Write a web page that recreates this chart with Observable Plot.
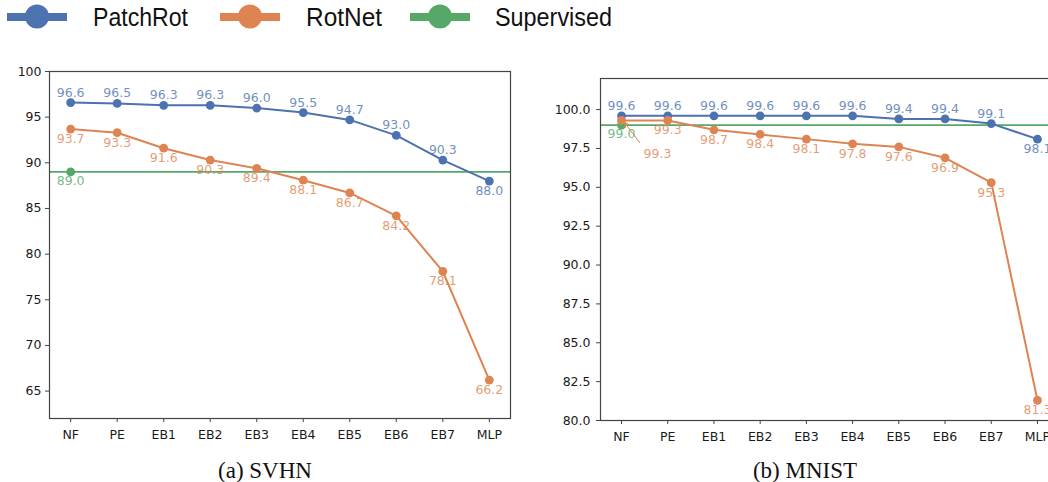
<!DOCTYPE html>
<html><head><meta charset="utf-8">
<script src="https://cdn.jsdelivr.net/npm/d3@7"></script>
<script src="https://cdn.jsdelivr.net/npm/@observablehq/plot@0.6"></script>
<style>
html,body{margin:0;padding:0;background:#fff;width:1048px;height:482px;overflow:hidden;}
#root{position:relative;width:1048px;height:482px;overflow:hidden;}
.panel{position:absolute;top:60px;}
#overlay{position:absolute;left:0;top:0;}
</style></head><body><div id="root"></div>
<script>
// ---- data ----
const categories = ["NF","PE","EB1","EB2","EB3","EB4","EB5","EB6","EB7","MLP"];
const seriesNames = ["PatchRot","RotNet","Supervised"];
const svhnPatchRot = [96.6,96.5,96.3,96.3,96.0,95.5,94.7,93.0,90.3,88.0];
const svhnRotNet   = [93.7,93.3,91.6,90.3,89.4,88.1,86.7,84.2,78.1,66.2];
const svhnSupervised = 89.0;
const mnistPatchRot = [99.6,99.6,99.6,99.6,99.6,99.6,99.4,99.4,99.1,98.1];
const mnistRotNet   = [99.3,99.3,98.7,98.4,98.1,97.8,97.6,96.9,95.3,81.3];
const mnistSupervised = 99.0;
const svhnYTicks = [65,70,75,80,85,90,95,100];
const mnistYTicks = [80,82.5,85,87.5,90,92.5,95,97.5,100];
const captions = ["(a) SVHN","(b) MNIST"];

const colors = {PatchRot:"#4C72B0", RotNet:"#DD8452", Supervised:"#55A868"};
const f1 = d3.format(".1f");

function annotArrow(xv, yv, ox1, oy1, ox2, oy2, color) {
  return (index, scales) => {
    const px = scales.x(xv), py = scales.y(yv);
    const x1 = px+ox1, y1 = py+oy1, x2 = px+ox2, y2 = py+oy2;
    const ang = Math.atan2(y2-y1, x2-x1), L = 6, a = 0.42;
    const g = d3.create("svg:g").attr("stroke", color).attr("stroke-width", 1).attr("fill","none");
    g.append("line").attr("x1",x1).attr("y1",y1).attr("x2",x2).attr("y2",y2);
    g.append("path").attr("d",
      `M${x2-L*Math.cos(ang-a)},${y2-L*Math.sin(ang-a)}L${x2},${y2}L${x2-L*Math.cos(ang+a)},${y2-L*Math.sin(ang+a)}`);
    return g.node();
  };
}

function makePanel(o) {
  const patch = o.patch.map((v,i)=>({i, v}));
  const rot = o.rot.map((v,i)=>({i, v}));
  const sup = [{i:0, v:o.sup}];
  const last = categories.length - 1;
  const fs = 12.5;
  const marks = [
    Plot.ruleY([o.sup], {stroke: colors.Supervised, strokeWidth: 1.8}),
    Plot.dot(sup, {x:"i", y:"v", r:4.4, fill: colors.Supervised}),
    Plot.line(patch, {x:"i", y:"v", stroke: colors.PatchRot, strokeWidth: 2}),
    Plot.dot(patch, {x:"i", y:"v", r:4.4, fill: colors.PatchRot}),
    Plot.line(rot, {x:"i", y:"v", stroke: colors.RotNet, strokeWidth: 2}),
    Plot.dot(rot, {x:"i", y:"v", r:4.4, fill: colors.RotNet}),
    Plot.text(sup, {x:"i", y:"v", text: d=>f1(d.v), dy: 9, fill: colors.Supervised, fillOpacity: 0.8, fontSize: fs}),
    Plot.text(patch.filter(d=>d.i<last), {x:"i", y:"v", text: d=>f1(d.v), dy: -10, fill: colors.PatchRot, fillOpacity: 0.8, fontSize: fs}),
    Plot.text(patch.filter(d=>d.i===last), {x:"i", y:"v", text: d=>f1(d.v), dy: 10, fill: colors.PatchRot, fillOpacity: 0.8, fontSize: fs}),
    Plot.text(rot.filter(d=>!(o.rotAnnot && d.i===0)), {x:"i", y:"v", text: d=>f1(d.v), dy: 10, fill: colors.RotNet, fillOpacity: 0.8, fontSize: fs}),
  ];
  if (o.rotAnnot) {
    marks.push(Plot.text(rot.filter(d=>d.i===0), {x:"i", y:"v", text: d=>f1(d.v), dx: 36, dy: 34, fill: colors.RotNet, fillOpacity: 0.8, fontSize: fs}));
    marks.push(annotArrow(0, o.rot[0], 19, 23, 3, 2, colors.RotNet));
  }
  marks.push(
    Plot.frame({stroke:"#444", strokeWidth: 1.2}),
    Plot.axisX({ticks: d3.range(categories.length), tickFormat: i=>categories[i], tickSize: 4, tickPadding: 8, label: null, stroke:"#444"}),
    Plot.axisY({ticks: o.yTicks, tickFormat: o.yFormat, tickSize: 4, tickPadding: o.yPad, label: null, stroke:"#444"})
  );
  return Plot.plot({
    width: o.width, height: 400,
    marginLeft: o.ml, marginRight: 20, marginTop: o.mt, marginBottom: o.mb,
    x: {type:"linear", domain:[-0.455, categories.length - 1 + 0.455]},
    y: {domain: o.yDomain},
    style: {fontFamily: "DejaVu Sans", fontSize: "12.5px", color: "#1a1a1a", background: "#fff", overflow: "visible"},
    marks
  });
}

const root = document.getElementById("root");
const left = makePanel({patch: svhnPatchRot, rot: svhnRotNet, sup: svhnSupervised,
  yDomain:[62,100], yTicks: svhnYTicks, yFormat: d3.format("d"), width: 530, ml: 49, mt: 11, mb: 42, yPad: 4});
left.classList.add("panel"); left.style.left = "0px";
root.appendChild(left);
const right = makePanel({patch: mnistPatchRot, rot: mnistRotNet, sup: mnistSupervised,
  yDomain:[80,102], yTicks: mnistYTicks, yFormat: d3.format(".1f"), width: 528, ml: 50, mt: 18, mb: 40, yPad: 6, rotAnnot: true});
right.classList.add("panel"); right.style.left = "550px";
root.appendChild(right);

// ---- legend & captions overlay ----
const ov = d3.select(root).append("svg").attr("id","overlay").attr("width",1048).attr("height",482);
const legendLayout = [
  {x1:7, x2:67, tx:93, tw:95},
  {x1:220, x2:280, tx:306, tw:76},
  {x1:410, x2:470, tx:495, tw:117}
];
seriesNames.forEach((name, k) => {
  const L = legendLayout[k], c = colors[name];
  ov.append("line").attr("x1",L.x1).attr("x2",L.x2).attr("y1",17).attr("y2",17)
    .attr("stroke",c).attr("stroke-width",8);
  ov.append("circle").attr("cx",(L.x1+L.x2)/2).attr("cy",16.5).attr("r",12).attr("fill",c);
  ov.append("text").attr("x",L.tx).attr("y",26).text(name)
    .attr("font-family","Liberation Sans, Arial, sans-serif").attr("font-size",25).attr("fill","#111")
    .attr("textLength",L.tw).attr("lengthAdjust","spacingAndGlyphs");
});
[265, 805].forEach((cx, k) => {
  ov.append("text").attr("x",cx).attr("y",478).attr("text-anchor","middle").text(captions[k])
    .attr("font-family","Liberation Serif, Times New Roman, serif").attr("font-size",23).attr("fill","#111");
});
</script></body></html>
